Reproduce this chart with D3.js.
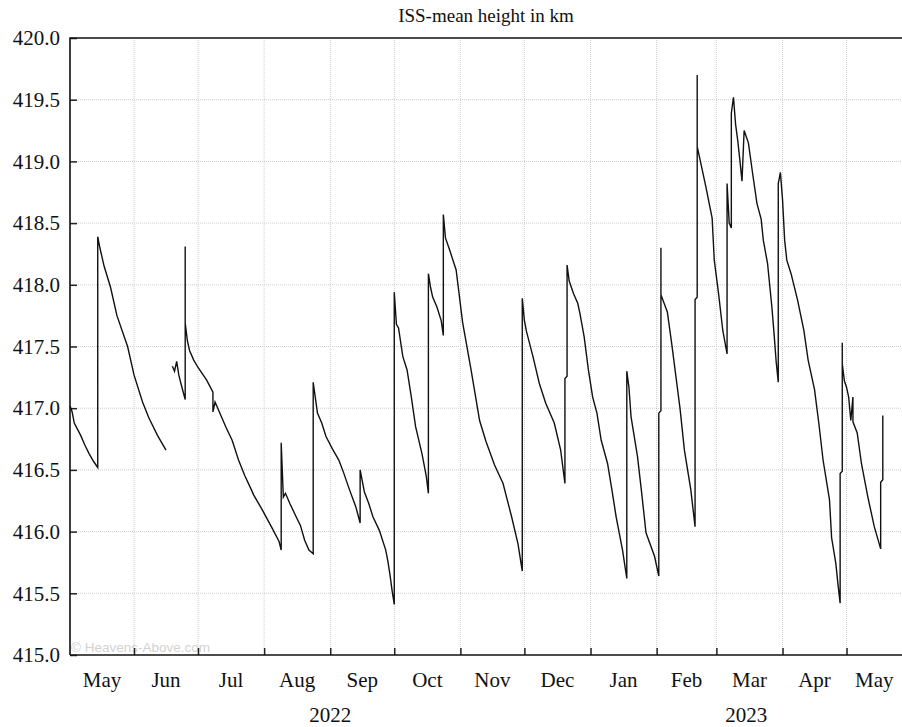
<!DOCTYPE html>
<html lang="en-US">
<head>
    <meta charset="utf-8">
    <script src="https://d3js.org/d3.v7.min.js"></script>
    <style>
        body { margin: 0; background: #fff; }
        text { font-family: "Liberation Serif", "Times New Roman", serif; fill: #111; }
        .grid line { stroke: #cdcdcd; stroke-width: 1; stroke-dasharray: 1,1; }
        .height-line { fill: none; stroke: #111; stroke-width: 1.4; }
        .watermark { font-family: "Liberation Sans", Arial, sans-serif; fill: #d2d2d2; }
    </style>
</head>
<body>
<div id="canvas"></div>
</body>
<script>
    var title = "ISS-mean height in km";
    var yTicks = [415.0, 415.5, 416.0, 416.5, 417.0, 417.5, 418.0, 418.5, 419.0, 419.5, 420.0];
    var xDomain = ["2022-05-02", "2023-05-27"];

    // mean height readings; null marks the gap in June
    var dates = [
        "2022-05-02", "2022-05-03", "2022-05-04", "2022-05-07", "2022-05-09", "2022-05-11", "2022-05-13", "2022-05-15",
        "2022-05-15", "2022-05-16", "2022-05-18", "2022-05-21", "2022-05-24", "2022-05-29", "2022-06-01", "2022-06-05",
        "2022-06-08", "2022-06-12", "2022-06-16", "2022-06-17", "2022-06-19", "2022-06-20", "2022-06-21", "2022-06-22",
        "2022-06-23", "2022-06-25", "2022-06-25", "2022-06-25", "2022-06-26", "2022-06-27", "2022-06-29", "2022-07-01",
        "2022-07-05", "2022-07-08", "2022-07-08", "2022-07-09", "2022-07-14", "2022-07-17", "2022-07-20", "2022-07-23",
        "2022-07-26", "2022-07-27", "2022-07-31", "2022-08-05", "2022-08-08", "2022-08-09", "2022-08-09", "2022-08-10",
        "2022-08-11", "2022-08-13", "2022-08-16", "2022-08-18", "2022-08-20", "2022-08-22", "2022-08-24", "2022-08-24",
        "2022-08-26", "2022-08-28", "2022-08-30", "2022-09-02", "2022-09-05", "2022-09-07", "2022-09-10", "2022-09-13",
        "2022-09-15", "2022-09-15", "2022-09-17", "2022-09-19", "2022-09-21", "2022-09-24", "2022-09-27", "2022-09-28",
        "2022-09-29", "2022-09-30", "2022-10-01", "2022-10-01", "2022-10-02", "2022-10-03", "2022-10-05", "2022-10-07",
        "2022-10-09", "2022-10-11", "2022-10-14", "2022-10-16", "2022-10-17", "2022-10-17", "2022-10-18", "2022-10-19",
        "2022-10-21", "2022-10-23", "2022-10-24", "2022-10-24", "2022-10-25", "2022-10-27", "2022-10-30", "2022-11-02",
        "2022-11-06", "2022-11-10", "2022-11-13", "2022-11-17", "2022-11-21", "2022-11-25", "2022-11-28", "2022-11-30",
        "2022-11-30", "2022-12-01", "2022-12-02", "2022-12-05", "2022-12-08", "2022-12-11", "2022-12-15", "2022-12-18",
        "2022-12-20", "2022-12-20", "2022-12-21", "2022-12-21", "2022-12-22", "2022-12-24", "2022-12-26", "2022-12-27",
        "2022-12-29", "2022-12-31", "2023-01-02", "2023-01-04", "2023-01-06", "2023-01-09", "2023-01-11", "2023-01-13",
        "2023-01-16", "2023-01-18", "2023-01-18", "2023-01-19", "2023-01-20", "2023-01-23", "2023-01-25", "2023-01-27",
        "2023-01-31", "2023-02-02", "2023-02-02", "2023-02-03", "2023-02-03", "2023-02-03", "2023-02-06", "2023-02-08",
        "2023-02-10", "2023-02-12", "2023-02-14", "2023-02-17", "2023-02-19", "2023-02-19", "2023-02-20", "2023-02-20",
        "2023-02-20", "2023-02-21", "2023-02-24", "2023-02-27", "2023-02-28", "2023-03-02", "2023-03-04", "2023-03-06",
        "2023-03-06", "2023-03-07", "2023-03-08", "2023-03-08", "2023-03-09", "2023-03-10", "2023-03-11", "2023-03-12",
        "2023-03-13", "2023-03-14", "2023-03-16", "2023-03-18", "2023-03-20", "2023-03-22", "2023-03-23", "2023-03-25",
        "2023-03-27", "2023-03-28", "2023-03-29", "2023-03-30", "2023-03-30", "2023-03-31", "2023-04-01", "2023-04-02",
        "2023-04-03", "2023-04-05", "2023-04-08", "2023-04-11", "2023-04-13", "2023-04-16", "2023-04-18", "2023-04-20",
        "2023-04-23", "2023-04-24", "2023-04-26", "2023-04-27", "2023-04-28", "2023-04-28", "2023-04-29", "2023-04-29",
        "2023-04-29", "2023-04-30", "2023-05-01", "2023-05-02", "2023-05-03", "2023-05-04", "2023-05-04", "2023-05-06",
        "2023-05-08", "2023-05-11", "2023-05-14", "2023-05-17", "2023-05-17", "2023-05-18", "2023-05-18"
    ];
    var heights = [
        417.02, 416.97, 416.88, 416.78, 416.70, 416.63, 416.57, 416.52,
        418.39, 418.30, 418.15, 417.98, 417.75, 417.50, 417.27, 417.05,
        416.92, 416.78, 416.66, null, 417.34, 417.30, 417.38, 417.27,
        417.20, 417.07, 418.31, 417.69, 417.55, 417.47, 417.39, 417.33,
        417.23, 417.13, 416.97, 417.05, 416.85, 416.74, 416.58, 416.45,
        416.34, 416.30, 416.18, 416.02, 415.92, 415.85, 416.72, 416.28,
        416.31, 416.23, 416.12, 416.05, 415.93, 415.85, 415.82, 417.21,
        416.96, 416.88, 416.77, 416.67, 416.58, 416.49, 416.34, 416.20,
        416.07, 416.50, 416.32, 416.23, 416.12, 416.01, 415.85, 415.76,
        415.65, 415.52, 415.41, 417.94, 417.68, 417.65, 417.42, 417.31,
        417.09, 416.85, 416.63, 416.45, 416.31, 418.09, 417.98, 417.90,
        417.82, 417.71, 417.59, 418.57, 418.38, 418.28, 418.12, 417.70,
        417.31, 416.90, 416.73, 416.54, 416.39, 416.12, 415.90, 415.68,
        417.89, 417.71, 417.62, 417.42, 417.20, 417.04, 416.88, 416.66,
        416.39, 417.24, 417.26, 418.16, 418.03, 417.93, 417.85, 417.77,
        417.58, 417.31, 417.09, 416.96, 416.74, 416.55, 416.34, 416.12,
        415.85, 415.62, 417.30, 417.17, 416.93, 416.61, 416.31, 415.99,
        415.80, 415.64, 416.96, 416.98, 418.30, 417.92, 417.78, 417.53,
        417.26, 416.99, 416.66, 416.34, 416.04, 417.88, 417.90, 419.70,
        419.12, 419.04, 418.80, 418.54, 418.20, 417.93, 417.63, 417.44,
        418.82, 418.50, 418.46, 419.39, 419.52, 419.30, 419.17, 419.01,
        418.84, 419.25, 419.15, 418.90, 418.66, 418.53, 418.36, 418.17,
        417.82, 417.61, 417.38, 417.21, 418.82, 418.91, 418.69, 418.36,
        418.20, 418.09, 417.88, 417.63, 417.39, 417.15, 416.88, 416.58,
        416.26, 415.95, 415.74, 415.57, 415.42, 416.47, 416.49, 417.53,
        417.36, 417.22, 417.17, 417.09, 416.90, 417.09, 416.89, 416.80,
        416.55, 416.28, 416.04, 415.86, 416.40, 416.42, 416.94
    ];

    var svg = d3.select("#canvas")
        .append("svg")
        .attr("width", 902)
        .attr("height", 727);

    var margin = {
        top: 38,
        right: 0,
        bottom: 72,
        left: 70
    };
    var width = +svg.attr("width") - margin.left - margin.right;
    var height = +svg.attr("height") - margin.top - margin.bottom;

    var parse = d3.timeParse("%Y-%m-%d");
    var d0 = parse(xDomain[0]);
    var d1 = parse(xDomain[1]);

    var x = d3.scaleTime().domain([d0, d1]).range([0, width]);
    var y = d3.scaleLinear().domain([415, 420]).range([height, 0]);

    var data = dates.map(function (d, i) {
        return { date: parse(d), value: heights[i] };
    });

    var g = svg.append("g")
        .attr("transform", "translate(" + margin.left + "," + margin.top + ")");

    var months = d3.timeMonths(d3.timeMonth.floor(d0), d1);
    var monthStarts = months.filter(function (m) { return m > d0; });

    // grid
    var grid = g.append("g").attr("class", "grid");
    grid.selectAll(".vgrid")
        .data(monthStarts)
        .enter()
            .append("line")
            .attr("x1", function (d) { return x(d); })
            .attr("x2", function (d) { return x(d); })
            .attr("y1", 0)
            .attr("y2", height);
    grid.selectAll(".hgrid")
        .data(yTicks.slice(1, -1))
        .enter()
            .append("line")
            .attr("x1", 0)
            .attr("x2", width)
            .attr("y1", function (d) { return y(d); })
            .attr("y2", function (d) { return y(d); });

    g.append("text")
        .attr("class", "watermark")
        .attr("x", 1)
        .attr("y", height - 3)
        .attr("font-size", "13.5px")
        .text("\u00a9 Heavens-Above.com");

    // axes
    var yAxis = g.append("g")
        .call(d3.axisLeft(y).tickValues(yTicks).tickSize(-7).tickPadding(10)
            .tickFormat(d3.format(".1f")));
    yAxis.select(".domain").remove();
    yAxis.selectAll("text").attr("font-size", "21px").attr("font-family", null);
    yAxis.selectAll("line").attr("stroke", "#222").attr("stroke-width", 1.5);

    var xAxis = g.append("g")
        .attr("transform", "translate(0," + height + ")")
        .call(d3.axisBottom(x).tickValues(monthStarts).tickSize(-7).tickFormat(""));
    xAxis.select(".domain").remove();
    xAxis.selectAll("line").attr("stroke", "#222").attr("stroke-width", 1.5);

    g.append("path")
        .attr("d", "M0," + height + "V0H" + width)
        .attr("fill", "none")
        .attr("stroke", "#111")
        .attr("stroke-width", 1.6);
    g.append("line")
        .attr("x1", 0).attr("x2", width)
        .attr("y1", height).attr("y2", height)
        .attr("stroke", "#111")
        .attr("stroke-width", 1.6);

    // month and year labels centred in their visible span
    function span(a, b) {
        var s = a < d0 ? d0 : a;
        var e = b > d1 ? d1 : b;
        return (x(s) + x(e)) / 2;
    }
    g.selectAll(".month")
        .data(months)
        .enter()
            .append("text")
            .attr("x", function (d) { return span(d, d3.timeMonth.offset(d, 1)); })
            .attr("y", height + 32)
            .attr("text-anchor", "middle")
            .attr("font-size", "21px")
            .text(d3.timeFormat("%b"));
    g.selectAll(".year")
        .data(d3.timeYears(d3.timeYear.floor(d0), d1))
        .enter()
            .append("text")
            .attr("x", function (d) { return span(d, d3.timeYear.offset(d, 1)); })
            .attr("y", height + 67)
            .attr("text-anchor", "middle")
            .attr("font-size", "21px")
            .text(d3.timeFormat("%Y"));

    svg.append("text")
        .attr("x", margin.left + width / 2)
        .attr("y", 22)
        .attr("text-anchor", "middle")
        .attr("font-size", "19px")
        .text(title);

    var line = d3.line()
        .defined(function (d) { return d.value != null; })
        .x(function (d) { return x(d.date); })
        .y(function (d) { return y(d.value); });

    g.append("path")
        .datum(data)
        .attr("class", "height-line")
        .attr("d", line);
</script>
</html>
